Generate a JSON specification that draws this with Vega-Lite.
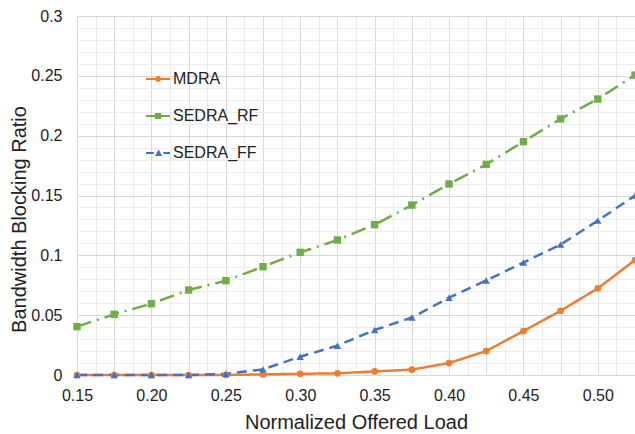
{
  "$schema": "https://vega.github.io/schema/vega-lite/v6.json",
  "width": 558,
  "height": 359,
  "autosize": {"type": "none"},
  "padding": {"left": 77, "top": 16, "right": 0, "bottom": 59},
  "background": "white",
  "config": {
    "font": "Liberation Sans",
    "view": {"stroke": null},
    "axis": {"labelFont": "Liberation Sans", "titleFont": "Liberation Sans", "labelColor": "#222", "titleColor": "#222", "titleFontWeight": "normal"}
  },
  "data": {
    "values": [
      {"load": 0.15, "series": "MDRA", "ratio": 0},
      {"load": 0.175, "series": "MDRA", "ratio": 0},
      {"load": 0.2, "series": "MDRA", "ratio": 0},
      {"load": 0.225, "series": "MDRA", "ratio": 0},
      {"load": 0.25, "series": "MDRA", "ratio": 0},
      {"load": 0.275, "series": "MDRA", "ratio": 0.0005},
      {"load": 0.3, "series": "MDRA", "ratio": 0.001},
      {"load": 0.325, "series": "MDRA", "ratio": 0.0014},
      {"load": 0.35, "series": "MDRA", "ratio": 0.003},
      {"load": 0.375, "series": "MDRA", "ratio": 0.0045},
      {"load": 0.4, "series": "MDRA", "ratio": 0.01},
      {"load": 0.425, "series": "MDRA", "ratio": 0.02},
      {"load": 0.45, "series": "MDRA", "ratio": 0.0367},
      {"load": 0.475, "series": "MDRA", "ratio": 0.0537},
      {"load": 0.5, "series": "MDRA", "ratio": 0.0724},
      {"load": 0.525, "series": "MDRA", "ratio": 0.096},
      {"load": 0.15, "series": "SEDRA_RF", "ratio": 0.0404},
      {"load": 0.175, "series": "SEDRA_RF", "ratio": 0.0507},
      {"load": 0.2, "series": "SEDRA_RF", "ratio": 0.0596},
      {"load": 0.225, "series": "SEDRA_RF", "ratio": 0.071},
      {"load": 0.25, "series": "SEDRA_RF", "ratio": 0.0788},
      {"load": 0.275, "series": "SEDRA_RF", "ratio": 0.0905},
      {"load": 0.3, "series": "SEDRA_RF", "ratio": 0.1025},
      {"load": 0.325, "series": "SEDRA_RF", "ratio": 0.1128},
      {"load": 0.35, "series": "SEDRA_RF", "ratio": 0.1256},
      {"load": 0.375, "series": "SEDRA_RF", "ratio": 0.142},
      {"load": 0.4, "series": "SEDRA_RF", "ratio": 0.1596},
      {"load": 0.425, "series": "SEDRA_RF", "ratio": 0.176},
      {"load": 0.45, "series": "SEDRA_RF", "ratio": 0.195},
      {"load": 0.475, "series": "SEDRA_RF", "ratio": 0.214},
      {"load": 0.5, "series": "SEDRA_RF", "ratio": 0.2306},
      {"load": 0.525, "series": "SEDRA_RF", "ratio": 0.2506},
      {"load": 0.15, "series": "SEDRA_FF", "ratio": 0},
      {"load": 0.175, "series": "SEDRA_FF", "ratio": 0},
      {"load": 0.2, "series": "SEDRA_FF", "ratio": 0},
      {"load": 0.225, "series": "SEDRA_FF", "ratio": 0},
      {"load": 0.25, "series": "SEDRA_FF", "ratio": 0.001},
      {"load": 0.275, "series": "SEDRA_FF", "ratio": 0.0047},
      {"load": 0.3, "series": "SEDRA_FF", "ratio": 0.0153},
      {"load": 0.325, "series": "SEDRA_FF", "ratio": 0.0245},
      {"load": 0.35, "series": "SEDRA_FF", "ratio": 0.0376},
      {"load": 0.375, "series": "SEDRA_FF", "ratio": 0.048},
      {"load": 0.4, "series": "SEDRA_FF", "ratio": 0.0646},
      {"load": 0.425, "series": "SEDRA_FF", "ratio": 0.079},
      {"load": 0.45, "series": "SEDRA_FF", "ratio": 0.094},
      {"load": 0.475, "series": "SEDRA_FF", "ratio": 0.109},
      {"load": 0.5, "series": "SEDRA_FF", "ratio": 0.129},
      {"load": 0.525, "series": "SEDRA_FF", "ratio": 0.15}
    ]
  },
  "encoding": {
    "x": {
      "field": "load", "type": "quantitative",
      "scale": {"domain": [0.15, 0.525], "nice": false, "zero": false},
      "axis": {
        "values": [0.15, 0.1625, 0.175, 0.1875, 0.2, 0.2125, 0.225, 0.2375, 0.25, 0.2625, 0.275, 0.2875, 0.3, 0.3125, 0.325, 0.3375, 0.35, 0.3625, 0.375, 0.3875, 0.4, 0.4125, 0.425, 0.4375, 0.45, 0.4625, 0.475, 0.4875, 0.5, 0.5125, 0.525],
        "labelExpr": "abs(datum.value*20 - round(datum.value*20)) < 0.001 ? format(datum.value, '.2f') : ''",
        "labelFontSize": 16, "labelPadding": 12, "labelOverlap": false, "labelFlush": false, "labelBound": false,
        "ticks": false, "domain": false,
        "grid": true,
        "gridColor": {"condition": {"test": "abs(datum.value*40 - round(datum.value*40)) < 0.001", "value": "#d9d9d9"}, "value": "#ececec"},
        "gridWidth": 1,
        "title": "Normalized Offered Load",
        "titleFontSize": 20, "titleBaseline": "alphabetic", "titleY": 53
      }
    },
    "y": {
      "field": "ratio", "type": "quantitative",
      "scale": {"domain": [0, 0.3], "nice": false},
      "axis": {
        "values": [0, 0.01, 0.02, 0.03, 0.04, 0.05, 0.06, 0.07, 0.08, 0.09, 0.1, 0.11, 0.12, 0.13, 0.14, 0.15, 0.16, 0.17, 0.18, 0.19, 0.2, 0.21, 0.22, 0.23, 0.24, 0.25, 0.26, 0.27, 0.28, 0.29, 0.3],
        "labelExpr": "abs(datum.value*20 - round(datum.value*20)) < 0.001 ? format(datum.value, '.2~f') : ''",
        "labelFontSize": 16, "labelPadding": 15, "labelOverlap": false, "labelBound": false, "labelFlush": false,
        "ticks": false, "domain": false,
        "grid": true,
        "gridColor": {"condition": {"test": "abs(datum.value*20 - round(datum.value*20)) < 0.001", "value": "#d9d9d9"}, "value": "#ececec"},
        "title": "Bandwidth Blocking Ratio",
        "titleFontSize": 20, "titleAngle": -90, "titleBaseline": "alphabetic", "titleAlign": "center", "titleX": -52, "titleY": 203
      }
    },
    "color": {
      "field": "series", "type": "nominal",
      "scale": {"domain": ["MDRA", "SEDRA_RF", "SEDRA_FF"], "range": ["#ED7D31", "#70AD47", "#4472C4"]},
      "legend": {
        "orient": "none", "legendX": 69, "legendY": 51, "title": null,
        "labelFontSize": 16, "labelColor": "#222", "labelFont": "Liberation Sans",
        "symbolSize": 576, "rowPadding": 17, "labelOffset": 3, "padding": 0,
        "symbolType": "circle",
        "encode": {
          "symbols": {
            "update": {
              "shape": {"signal": "datum.value === 'MDRA' ? 'M-1,-0.085H-0.21V0.085H-1Z M0.21,-0.085H1V0.085H0.21Z M0.24,0A0.24,0.24,0,1,1,-0.24,0A0.24,0.24,0,1,1,0.24,0Z' : datum.value === 'SEDRA_RF' ? 'M-1,-0.085H-0.26V0.085H-1Z M0.26,-0.085H1V0.085H0.26Z M-0.26,-0.26H0.26V0.26H-0.26Z' : 'M-1,-0.085H-0.35V0.085H-1Z M0.45,-0.085H1V0.085H0.45Z M0.05,-0.3L0.35,0.24H-0.25Z'"},
              "size": {"value": 576},
              "fill": {"scale": "color", "field": "value"},
              "fillOpacity": {"value": 1},
              "strokeWidth": {"value": 0},
              "strokeDash": {"value": []},
              "opacity": {"value": 1}
            }
          }
        }
      }
    }
  },
  "layer": [
    {
      "mark": {"type": "line", "strokeWidth": 2.5, "clip": false},
      "encoding": {
        "strokeDash": {
          "field": "series", "type": "nominal",
          "scale": {"domain": ["MDRA", "SEDRA_RF", "SEDRA_FF"], "range": [[1, 0], [15, 6, 2, 6], [10, 6]]},
          "legend": null
        }
      }
    },
    {
      "transform": [{"filter": "datum.series === 'MDRA'"}],
      "mark": {"type": "point", "shape": "circle", "size": 45, "filled": true, "opacity": 1, "clip": false}
    },
    {
      "transform": [{"filter": "datum.series === 'SEDRA_RF'"}],
      "mark": {"type": "point", "shape": "square", "size": 55, "filled": true, "opacity": 1, "clip": false}
    },
    {
      "transform": [{"filter": "datum.series === 'SEDRA_FF'"}],
      "mark": {"type": "point", "shape": "triangle-up", "size": 55, "filled": true, "opacity": 1, "clip": false}
    }
  ]
}
